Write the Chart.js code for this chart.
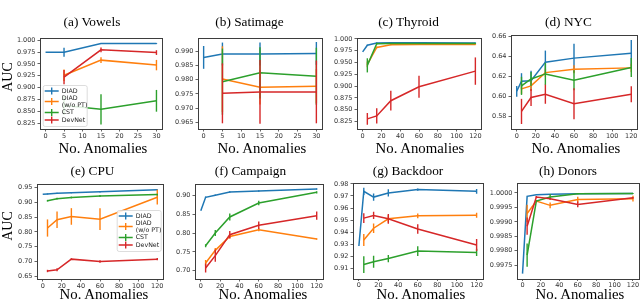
<!DOCTYPE html>
<html><head><meta charset="utf-8">
<script src="https://cdn.jsdelivr.net/npm/chart.js@4.4.0/dist/chart.umd.min.js"></script>
<style>
html,body{margin:0;padding:0;background:#fff;}
#wrap{position:relative;width:640px;height:301px;overflow:hidden;background:#fff;}
#wrap canvas{position:absolute;left:0;top:0;}
.t{position:absolute;font-family:'Liberation Serif','Times New Roman',serif;color:#000;white-space:nowrap;line-height:1;transform:translate(-50%,-50%);}
</style></head><body><div id="wrap"></div>
<script>
// ---------- data ----------
const seriesNames = ['DIAD', 'DIAD (w/o PT)', 'CST', 'DevNet'];
const xTicksSmall = [0, 5, 10, 15, 20, 25, 30];
const xTicksLarge = [0, 20, 40, 60, 80, 100, 120];

// (a) Vowels
const vowelsX = [0, 5, 15, 30];
const vowelsDIAD = [0.9745, 0.9745, 0.993, 0.993];
const vowelsDIADErr = [0, 0.0095, 0.001, 0.001];
const vowelsNoPT = [null, 0.926, 0.958, 0.9475];
const vowelsNoPTErr = [0, 0.012, 0.006, 0.011];
const vowelsCST = [null, 0.862, 0.854, 0.872];
const vowelsCSTErr = [0, 0.02, 0.032, 0.023];
const vowelsDevNet = [null, 0.922, 0.9797, 0.974];
const vowelsDevNetErr = [0, 0.015, 0.005, 0.005];
const vowelsYTicks = [0.825, 0.850, 0.875, 0.900, 0.925, 0.950, 0.975, 1.000];

// (b) Satimage
const satX = [0, 5, 15, 30];
const satDIAD = [0.9878, 0.989, 0.989, 0.9892];
const satDIADErr = [0.004, 0.004, 0.004, 0.004];
const satNoPT = [null, 0.9802, 0.9773, 0.9777];
const satNoPTErr = [0, 0.0115, 0.006, 0.006];
const satCST = [null, 0.9793, 0.9824, 0.9812];
const satCSTErr = [0, 0.0116, 0.009, 0.010];
const satDevNet = [null, 0.9752, 0.9757, 0.9757];
const satDevNetErr = [0, 0.0105, 0.0112, 0.011];
const satYTicks = [0.965, 0.970, 0.975, 0.980, 0.985, 0.990];

// (c) Thyroid
const thyX = [0, 5, 15, 30, 60, 120];
const thyDIAD = [0.9726, 0.9867, 0.9916, 0.9918, 0.9918, 0.9916];
const thyDIADErr = [0, 0.001, 0.001, 0.001, 0.001, 0.001];
const thyNoPT = [null, 0.946, 0.982, 0.9875, 0.988, 0.988];
const thyNoPTErr = [0, 0.006, 0.002, 0.001, 0.001, 0.001];
const thyCST = [null, 0.944, 0.990, 0.9905, 0.9905, 0.9905];
const thyCSTErr = [0, 0.015, 0.002, 0.001, 0.001, 0.001];
const thyDevNet = [null, 0.8305, 0.8368, 0.869, 0.8987, 0.9318];
const thyDevNetErr = [0, 0.0125, 0.016, 0.021, 0.0235, 0.029];
const thyYTicks = [0.825, 0.850, 0.875, 0.900, 0.925, 0.950, 0.975, 1.000];

// (d) NYC
const nycX = [0, 5, 15, 30, 60, 120];
const nycDIAD = [0.605, 0.615, 0.6155, 0.634, 0.638, 0.6428];
const nycDIADErr = [0.0053, 0.008, 0.01, 0.0115, 0.0142, 0.0132];
const nycNoPT = [null, 0.6074, 0.6104, 0.6236, 0.627, 0.6283];
const nycNoPTErr = [0, 0.005, 0.005, 0.004, 0.004, 0.004];
const nycCST = [null, 0.6104, 0.6173, 0.6223, 0.616, 0.6286];
const nycCSTErr = [0, 0.009, 0.007, 0.011, 0.01, 0.0095];
const nycDevNet = [null, 0.585, 0.5988, 0.6021, 0.5926, 0.6021];
const nycDevNetErr = [0, 0.0125, 0.0085, 0.0095, 0.0155, 0.008];
const nycYTicks = [0.58, 0.60, 0.62, 0.64, 0.66];

// (e) CPU
const cpuX = [0, 5, 15, 30, 60, 120];
const cpuDIAD = [0.927, 0.928, 0.930, 0.932, 0.935, 0.942];
const cpuDIADErr = [0, 0.002, 0.002, 0.002, 0.002, 0.002];
const cpuNoPT = [null, 0.813, 0.841, 0.852, 0.843, 0.917];
const cpuNoPTErr = [0, 0.029, 0.028, 0.028, 0.037, 0.025];
const cpuCST = [null, 0.905, 0.912, 0.916, 0.921, 0.926];
const cpuCSTErr = [0, 0.003, 0.003, 0.003, 0.003, 0.003];
const cpuDevNet = [null, 0.668, 0.672, 0.708, 0.700, 0.708];
const cpuDevNetErr = [0, 0.004, 0.005, 0.003, 0.004, 0.004];
const cpuYTicks = [0.65, 0.70, 0.75, 0.80, 0.85, 0.90, 0.95];

// (f) Campaign
const camX = [0, 5, 15, 30, 60, 120];
const camDIAD = [0.859, 0.8947, 0.900, 0.9088, 0.9115, 0.917];
const camDIADErr = [0, 0.002, 0.002, 0.002, 0.002, 0.002];
const camNoPT = [null, 0.7204, 0.754, 0.791, 0.8088, 0.784];
const camNoPTErr = [0, 0.008, 0.006, 0.005, 0.004, 0.002];
const camCST = [null, 0.766, 0.80, 0.8425, 0.8796, 0.908];
const camCSTErr = [0, 0.004, 0.008, 0.009, 0.006, 0.003];
const camDevNet = [null, 0.707, 0.74, 0.7956, 0.8204, 0.846];
const camDevNetErr = [0, 0.012, 0.016, 0.01, 0.01, 0.011];
const camYTicks = [0.70, 0.75, 0.80, 0.85, 0.90];

// (g) Backdoor
const bdX = [0, 5, 15, 30, 60, 120];
const bdDIAD = [0.9284, 0.9739, 0.9691, 0.9725, 0.9753, 0.9739];
const bdDIADErr = [0, 0.003, 0.003, 0.003, 0.001, 0.002];
const bdNoPT = [null, 0.9334, 0.9432, 0.951, 0.9535, 0.954];
const bdNoPTErr = [0, 0.005, 0.004, 0.003, 0.002, 0.002];
const bdCST = [null, 0.913, 0.9153, 0.918, 0.9242, 0.9231];
const bdCSTErr = [0, 0.007, 0.005, 0.003, 0.004, 0.003];
const bdDevNet = [null, 0.9516, 0.9538, 0.951, 0.9426, 0.9292];
const bdDevNetErr = [0, 0.004, 0.003, 0.004, 0.004, 0.005];
const bdYTicks = [0.91, 0.92, 0.93, 0.94, 0.95, 0.96, 0.97, 0.98];

// (h) Donors
const donX = [0, 5, 15, 30, 60, 120];
const donDIAD = [0.99721, 0.99988, 0.99994, 0.99995, 0.99997, 0.99998];
const donDIADErr = [0, 0, 0, 0, 0, 0];
const donNoPT = [null, 0.99929, 0.99972, 0.99957, 0.99977, 0.9998];
const donNoPTErr = [0, 0.0003, 0.00003, 0.0001, 0.0001, 0.0001];
const donCST = [null, 0.99785, 0.99972, 0.99986, 0.99997, 0.99998];
const donCSTErr = [0, 0.0004, 0.00003, 0.0001, 0.00002, 0.00002];
const donDevNet = [null, 0.99885, 0.99986, 0.9998, 0.9996, 0.99983];
const donDevNetErr = [0, 0.0003, 0.00003, 0.00003, 0.0001, 0.00003];
const donYTicks = [0.9975, 0.9980, 0.9985, 0.9990, 0.9995, 1.0000];

// ---------- panels ----------
const panels = [
  {title:'(a) Vowels', x:vowelsX, xTicks:xTicksSmall, yTicks:vowelsYTicks, yDec:3,
   vals:[vowelsDIAD, vowelsNoPT, vowelsCST, vowelsDevNet], errs:[vowelsDIADErr, vowelsNoPTErr, vowelsCSTErr, vowelsDevNetErr]},
  {title:'(b) Satimage', x:satX, xTicks:xTicksSmall, yTicks:satYTicks, yDec:3,
   vals:[satDIAD, satNoPT, satCST, satDevNet], errs:[satDIADErr, satNoPTErr, satCSTErr, satDevNetErr]},
  {title:'(c) Thyroid', x:thyX, xTicks:xTicksLarge, yTicks:thyYTicks, yDec:3,
   vals:[thyDIAD, thyNoPT, thyCST, thyDevNet], errs:[thyDIADErr, thyNoPTErr, thyCSTErr, thyDevNetErr]},
  {title:'(d) NYC', x:nycX, xTicks:xTicksLarge, yTicks:nycYTicks, yDec:2,
   vals:[nycDIAD, nycNoPT, nycCST, nycDevNet], errs:[nycDIADErr, nycNoPTErr, nycCSTErr, nycDevNetErr]},
  {title:'(e) CPU', x:cpuX, xTicks:xTicksLarge, yTicks:cpuYTicks, yDec:2,
   vals:[cpuDIAD, cpuNoPT, cpuCST, cpuDevNet], errs:[cpuDIADErr, cpuNoPTErr, cpuCSTErr, cpuDevNetErr]},
  {title:'(f) Campaign', x:camX, xTicks:xTicksLarge, yTicks:camYTicks, yDec:2,
   vals:[camDIAD, camNoPT, camCST, camDevNet], errs:[camDIADErr, camNoPTErr, camCSTErr, camDevNetErr]},
  {title:'(g) Backdoor', x:bdX, xTicks:xTicksLarge, yTicks:bdYTicks, yDec:2,
   vals:[bdDIAD, bdNoPT, bdCST, bdDevNet], errs:[bdDIADErr, bdNoPTErr, bdCSTErr, bdDevNetErr]},
  {title:'(h) Donors', x:donX, xTicks:xTicksLarge, yTicks:donYTicks, yDec:4,
   vals:[donDIAD, donNoPT, donCST, donDevNet], errs:[donDIADErr, donNoPTErr, donCSTErr, donDevNetErr]}
];

// ---------- layout / style ----------
const colors = ['#1f77b4', '#ff7f0e', '#2ca02c', '#d62728'];
const boxes = [
  {l:40, r:162, t:38, b:129, yMin:0.8124, yMax:1.0048, tx:92, ty:22, lx:103, ly:148, ylab:[8,77], legend:[42.7,85]},
  {l:198, r:322, t:38, b:129, yMin:0.9627, yMax:0.9946, tx:249.5, ty:22, lx:262, ly:148},
  {l:357, r:481, t:38, b:129, yMin:0.809, yMax:1.002, tx:408.5, ty:22, lx:420, ly:148},
  {l:511, r:637, t:35, b:129, yMin:0.5675, yMax:0.661, tx:568.5, ty:22, lx:576, ly:148},
  {l:37, r:163, t:184, b:279, yMin:0.641, yMax:0.9615, tx:92.5, ty:171, lx:104, ly:293.5, ylab:[8,226], legend:[116.7,210]},
  {l:195, r:322.5, t:184, b:279, yMin:0.678, yMax:0.930, tx:250.5, ty:171, lx:263, ly:293.5},
  {l:353, r:482.5, t:183, b:278.5, yMin:0.9014, yMax:0.9808, tx:408, ty:171, lx:421, ly:293.5},
  {l:517, r:638.5, t:182.5, b:278.5, yMin:0.99704, yMax:1.00036, tx:568, ty:171, lx:580, ly:293.5}
];
const YW = 30, XH = 10, W = 640, H = 301;
const tickFont = {family:'DejaVu Sans', size:6.5};

const wrap = document.getElementById('wrap');
function addText(txt, x, y, size, rot) {
  const d = document.createElement('div');
  d.className = 't';
  d.textContent = txt;
  d.style.left = x + 'px'; d.style.top = y + 'px'; d.style.fontSize = size + 'px';
  if (rot) d.style.transform = 'translate(-50%,-50%) rotate(-90deg)';
  wrap.appendChild(d);
}

const errPlugin = {
  id: 'errbars',
  afterDatasetDraw(chart, args) {
    const ds = chart.data.datasets[args.index];
    const meta = args.meta, ys = chart.scales.y, ca = chart.chartArea, ctx = chart.ctx;
    ctx.save();
    ctx.beginPath(); ctx.rect(ca.left, ca.top, ca.right - ca.left, ca.bottom - ca.top); ctx.clip();
    ctx.strokeStyle = ds.borderColor; ctx.lineWidth = 1.4;
    ds.data.forEach((pt, j) => {
      if (!pt.e) return;
      const px = meta.data[j].x;
      ctx.beginPath();
      ctx.moveTo(px, ys.getPixelForValue(pt.y - pt.e));
      ctx.lineTo(px, ys.getPixelForValue(pt.y + pt.e));
      ctx.stroke();
    });
    ctx.restore();
  }
};

const framePlugin = {
  id: 'frame',
  afterDatasetsDraw(chart) {
    const ca = chart.chartArea, ctx = chart.ctx;
    ctx.save();
    ctx.strokeStyle = '#3d3d3d'; ctx.lineWidth = 1;
    ctx.strokeRect(Math.round(ca.left) + 0.5, Math.round(ca.top) + 0.5,
      Math.round(ca.right - ca.left), Math.round(ca.bottom - ca.top));
    ctx.restore();
  }
};

const legendPlugin = {
  id: 'inlegend',
  afterDraw(chart, args, opts) {
    if (!opts || !opts.pos) return;
    const [lx, ly] = opts.pos, ctx = chart.ctx;
    const bw = 44, bh = 41;
    ctx.save();
    ctx.fillStyle = 'rgba(255,255,255,0.85)';
    ctx.strokeStyle = '#d4d4d4'; ctx.lineWidth = 0.8;
    ctx.beginPath();
    ctx.roundRect(lx + 0.5, ly + 0.5, bw, bh, 2);
    ctx.fill(); ctx.stroke();
    const rows = [[6], [13, 20], [27.5], [35]];
    const labels = [['DIAD'], ['DIAD', '(w/o PT)'], ['CST'], ['DevNet']];
    ctx.font = '6.3px "DejaVu Sans"';
    ctx.textBaseline = 'middle';
    ctx.fillStyle = '#222';
    rows.forEach((r, i) => {
      const my = ly + (r.length === 2 ? (r[0] + r[1]) / 2 : r[0]);
      ctx.strokeStyle = colors[i]; ctx.lineWidth = 1.4;
      ctx.beginPath();
      ctx.moveTo(lx + 2, my); ctx.lineTo(lx + 16, my);
      ctx.moveTo(lx + 9, my - 3.5); ctx.lineTo(lx + 9, my + 3.5);
      ctx.stroke();
      labels[i].forEach((t, k) => ctx.fillText(t, lx + 19, ly + r[k]));
    });
    ctx.restore();
  }
};

panels.forEach((p, pi) => {
  const b = boxes[pi];
  const cv = document.createElement('canvas');
  cv.width = W; cv.height = H;
  cv.style.width = W + 'px'; cv.style.height = H + 'px';
  wrap.appendChild(cv);
  const xs = p.x;
  const xr = xs[xs.length - 1] - xs[0];
  const datasets = p.vals.map((vals, si) => ({
    label: seriesNames[si],
    data: xs.map((x, j) => vals[j] == null ? null : {x: x, y: vals[j], e: p.errs[si][j]}).filter(d => d),
    borderColor: colors[si],
    backgroundColor: colors[si],
    borderWidth: 1.5,
    pointRadius: 0,
    tension: 0,
    fill: false,
    order: 3 - si
  }));
  new Chart(cv, {
    type: 'line',
    data: {datasets},
    plugins: [errPlugin, framePlugin, legendPlugin],
    options: {
      responsive: false, animation: false, devicePixelRatio: 1,
      layout: {padding: {left: b.l - YW, top: b.t, right: W - b.r, bottom: H - b.b - XH}},
      plugins: {legend: {display: false}, tooltip: {enabled: false}, title: {display: false},
        inlegend: {pos: b.legend || null}},
      scales: {
        x: {
          type: 'linear', min: xs[0] - 0.05 * xr, max: xs[xs.length - 1] + 0.05 * xr,
          afterBuildTicks: s => { s.ticks = p.xTicks.map(v => ({value: v})); },
          afterFit: s => { s.height = XH; s.paddingLeft = 0; s.paddingRight = 0; },
          grid: {drawOnChartArea: false, drawTicks: true, tickLength: 2.5, color: '#3d3d3d', lineWidth: 0.8},
          border: {display: false},
          ticks: {font: tickFont, color: '#333', padding: 0.5, maxRotation: 0, autoSkip: false,
            callback: v => String(v)}
        },
        y: {
          type: 'linear', min: b.yMin, max: b.yMax,
          afterBuildTicks: s => { s.ticks = p.yTicks.map(v => ({value: v})); },
          afterFit: s => { s.width = YW; s.paddingTop = 0; s.paddingBottom = 0; },
          grid: {drawOnChartArea: false, drawTicks: true, tickLength: 2.5, color: '#3d3d3d', lineWidth: 0.8},
          border: {display: false},
          ticks: {font: tickFont, color: '#333', padding: 2, autoSkip: false,
            callback: v => Number(v).toFixed(p.yDec)}
        }
      }
    }
  });
  addText(p.title, b.tx, b.ty, 13.3);
  addText('No. Anomalies', b.lx, b.ly, 14.8);
  if (b.ylab) addText('AUC', b.ylab[0], b.ylab[1], 14, true);
});
</script>
</body></html>
